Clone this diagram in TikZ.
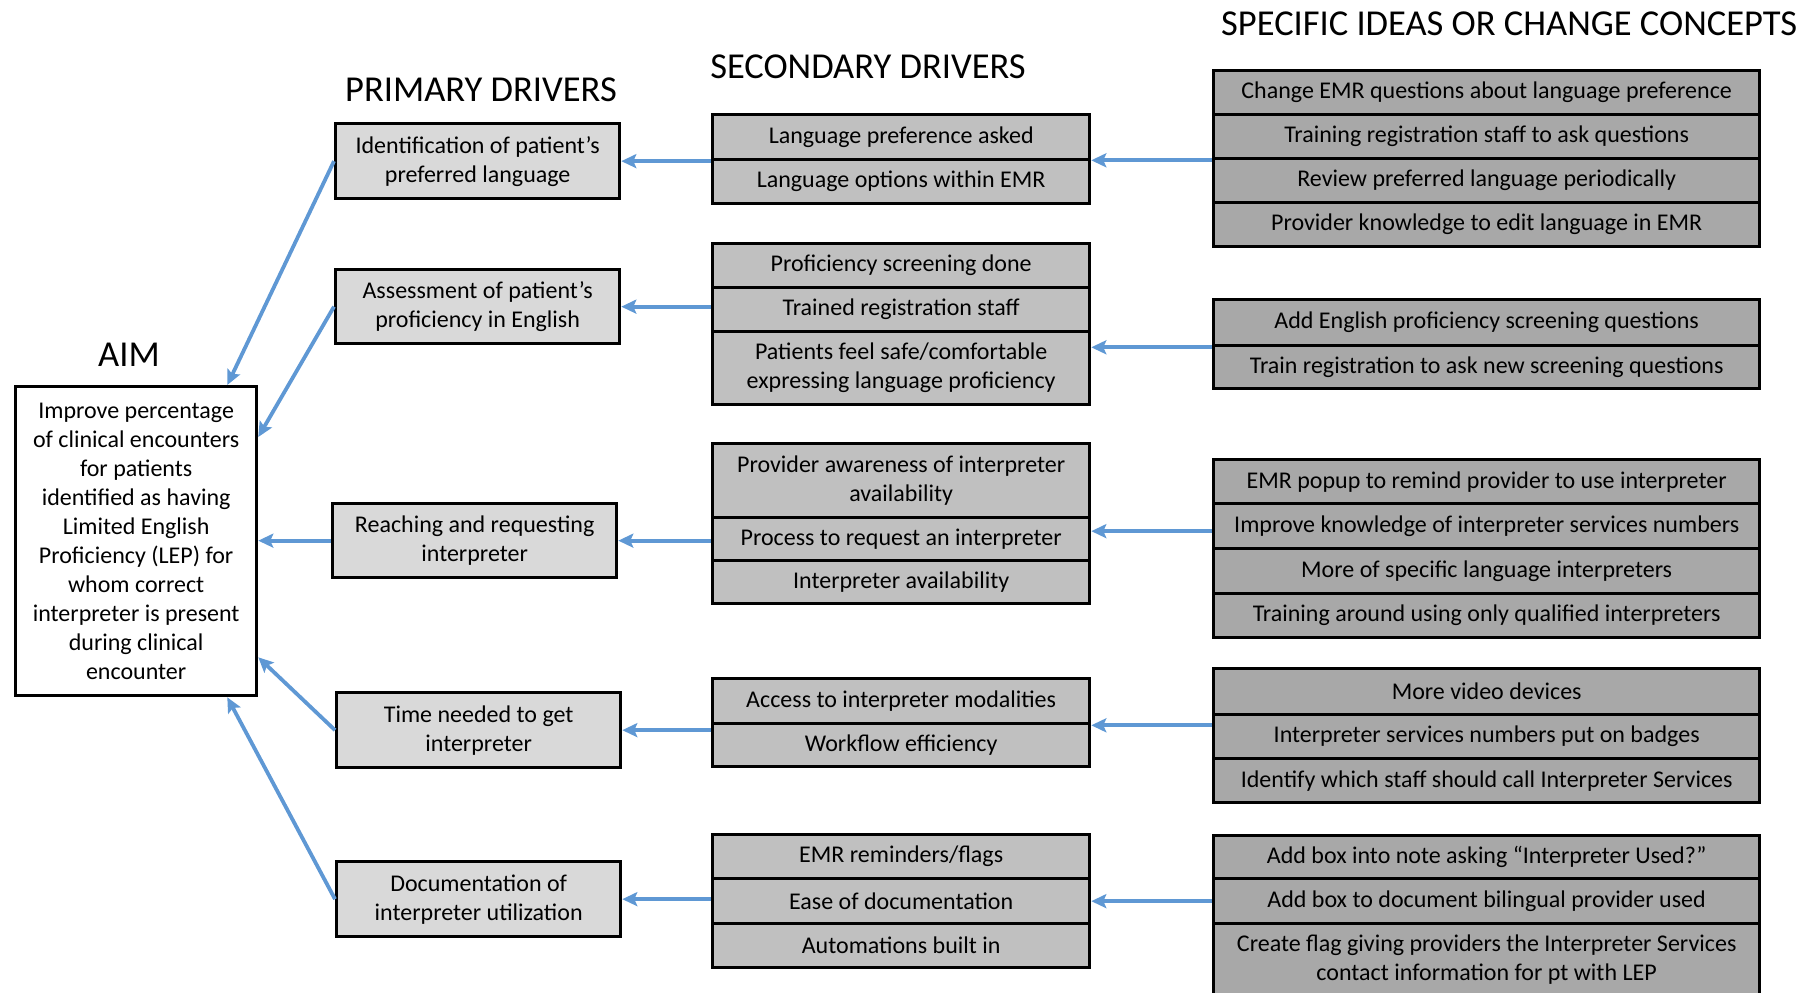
\documentclass[tikz,border=0pt]{standalone}
\usepackage{fontspec}
\setmainfont{Carlito}
\usetikzlibrary{arrows.meta}
\definecolor{pfill}{HTML}{D9D9D9}
\definecolor{sfill}{HTML}{C0C0C0}
\definecolor{cfill}{HTML}{A8A8A8}
\definecolor{arrblue}{RGB}{95,152,212}
\tikzset{
  base/.style={draw=black, line width=3.3pt, inner sep=0pt, align=center, anchor=north west,
    font=\fontsize{24}{29}\selectfont},
  pbox/.style={base, fill=pfill, minimum width=284pt},
  sbox/.style={base, fill=sfill, minimum width=377pt},
  cbox/.style={base, fill=cfill, minimum width=546pt},
  aimbox/.style={base, fill=white, minimum width=241pt, minimum height=309pt},
  title/.style={font=\fontsize{36.5}{40}\selectfont, inner sep=0pt},
  arr/.style={draw=arrblue, line width=3.8pt, -{Stealth[length=15pt,width=14pt,inset=3pt]}}
}
\begin{document}
\begin{tikzpicture}[x=1pt,y=-1pt]
\useasboundingbox (0,0) rectangle (1804,993);
% titles
\node[title] (taim) at (129,355) {AIM};
\node[title] (tpri) at (481,90) {PRIMARY DRIVERS};
\node[title] (tsec) at (868,67) {SECONDARY DRIVERS};
\node[title, anchor=west] (tcon) at (1221,24) {SPECIFIC IDEAS OR CHANGE CONCEPTS};
% aim
\node[aimbox] (aim) at (14,385) {Improve percentage\\of clinical encounters\\for patients\\identified as having\\Limited English\\Proficiency (LEP) for\\whom correct\\interpreter is present\\during clinical\\encounter};
% primary drivers
\node[pbox, minimum height=75pt] (p1) at (334,122) {Identification of patient’s\\preferred language};
\node[pbox, minimum height=74pt] (p2) at (334,268) {Assessment of patient’s\\proficiency in English};
\node[pbox, minimum height=74pt] (p3) at (331,502) {Reaching and requesting\\interpreter};
\node[pbox, minimum height=75pt] (p4) at (335,691) {Time needed to get\\interpreter};
\node[pbox, minimum height=75pt] (p5) at (335,860) {Documentation of\\interpreter utilization};
% secondary drivers
\node[sbox, minimum height=45pt] (s1a) at (711,113) {Language preference asked};
\node[sbox, minimum height=44pt] (s1b) at (711,158) {Language options within EMR};
\node[sbox, minimum height=44pt] (s2a) at (711,242) {Proficiency screening done};
\node[sbox, minimum height=44pt] (s2b) at (711,286) {Trained registration staff};
\node[sbox, minimum height=73pt] (s2c) at (711,330) {Patients feel safe/comfortable\\expressing language proficiency};
\node[sbox, minimum height=74pt] (s3a) at (711,442) {Provider awareness of interpreter\\availability};
\node[sbox, minimum height=43pt] (s3b) at (711,516) {Process to request an interpreter};
\node[sbox, minimum height=43pt] (s3c) at (711,559) {Interpreter availability};
\node[sbox, minimum height=45pt] (s4a) at (711,677) {Access to interpreter modalities};
\node[sbox, minimum height=43pt] (s4b) at (711,722) {Workflow efficiency};
\node[sbox, minimum height=44pt] (s5a) at (711,833) {EMR reminders/flags};
\node[sbox, minimum height=45pt] (s5b) at (711,877) {Ease of documentation};
\node[sbox, minimum height=44pt] (s5c) at (711,922) {Automations built in};
% change concepts
\node[cbox, minimum height=44pt] (c1a) at (1212,69) {Change EMR questions about language preference};
\node[cbox, minimum height=44pt] (c1b) at (1212,113) {Training registration staff to ask questions};
\node[cbox, minimum height=44pt] (c1c) at (1212,157) {Review preferred language periodically};
\node[cbox, minimum height=44pt] (c1d) at (1212,201) {Provider knowledge to edit language in EMR};
\node[cbox, minimum height=46pt] (c2a) at (1212,298) {Add English proficiency screening questions};
\node[cbox, minimum height=43pt] (c2b) at (1212,344) {Train registration to ask new screening questions};
\node[cbox, minimum height=44pt] (c3a) at (1212,458) {EMR popup to remind provider to use interpreter};
\node[cbox, minimum height=45pt] (c3b) at (1212,502) {Improve knowledge of interpreter services numbers};
\node[cbox, minimum height=45pt] (c3c) at (1212,547) {More of specific language interpreters};
\node[cbox, minimum height=44pt] (c3d) at (1212,592) {Training around using only qualified interpreters};
\node[cbox, minimum height=46pt] (c4a) at (1212,667) {More video devices};
\node[cbox, minimum height=44pt] (c4b) at (1212,713) {Interpreter services numbers put on badges};
\node[cbox, minimum height=44pt] (c4c) at (1212,757) {Identify which staff should call Interpreter Services};
\node[cbox, minimum height=43pt] (c5a) at (1212,834) {Add box into note asking “Interpreter Used?”};
\node[cbox, minimum height=45pt] (c5b) at (1212,877) {Add box to document bilingual provider used};
\node[cbox, minimum height=72pt] (c5c) at (1212,922) {Create flag giving providers the Interpreter Services\\contact information for pt with LEP};
% concepts -> secondary
\draw[arr] (c1b.south west) -- (c1b.south west -| s1a.east);
\draw[arr] (c2a.south west) -- (c2a.south west -| s2a.east);
\draw[arr] ([yshift=-5pt]c3b.west) -- ([yshift=-5pt]c3b.west -| s3b.east);
\draw[arr] (s4a.south east -| c4a.west) -- (s4a.south east);
\draw[arr] (c5b.west) -- (c5b.west -| s5b.east);
% secondary -> primary
\draw[arr] (p1.east -| s1a.west) -- (p1.east);
\draw[arr] (p2.east -| s2a.west) -- (p2.east);
\draw[arr] (p3.east -| s3a.west) -- (p3.east);
\draw[arr] (p4.east -| s4a.west) -- (p4.east);
\draw[arr] (p5.east -| s5a.west) -- (p5.east);
% primary -> aim
\coordinate (aimT) at ([xshift=-31pt]aim.north east);
\coordinate (aimR2) at ([yshift=-52pt]aim.north east);
\coordinate (aimR4) at ([yshift=40pt]aim.south east);
\coordinate (aimB) at ([xshift=-31pt]aim.south east);
\draw[arr] (p1.west) -- (aimT);
\draw[arr] (p2.west) -- (aimR2);
\draw[arr] (p3.west) -- (p3.west -| aim.east);
\draw[arr] (p4.west) -- (aimR4);
\draw[arr] (p5.west) -- (aimB);
\end{tikzpicture}
\end{document}
